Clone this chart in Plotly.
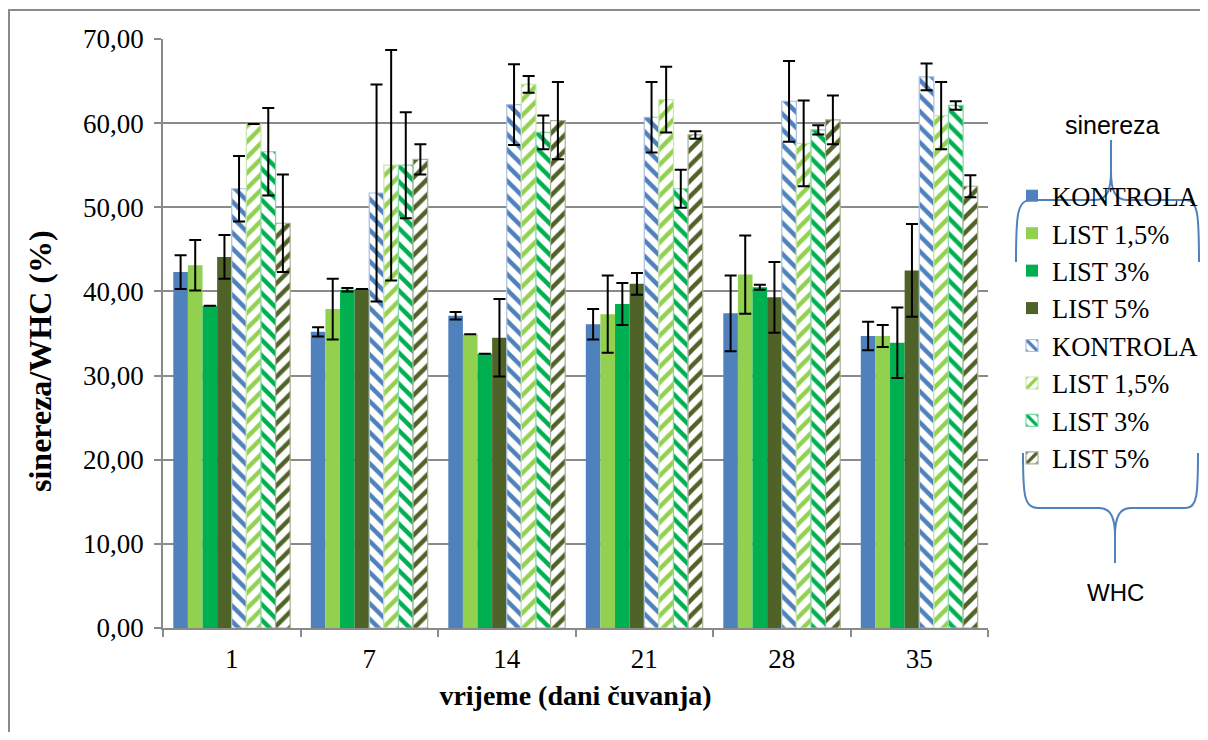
import plotly.graph_objects as go

days = ["1", "7", "14", "21", "28", "35"]
names = ["KONTROLA", "LIST 1,5%", "LIST 3%", "LIST 5%"]
colors = ["#4F81BD", "#92D050", "#00B050", "#4F6228"]
line_colors = ["#A7C0DE", "#C8E8A7", "#7FD7A7", "#A7B093"]
patterns = ["\\", "/", "\\", "/"]

# sinereza (solid)
sin_kontrola = [42.3, 35.2, 37.1, 36.1, 37.4, 34.7]
sin_list15 = [43.1, 37.9, 34.9, 37.3, 42.0, 34.7]
sin_list3 = [38.3, 40.2, 32.6, 38.5, 40.5, 33.9]
sin_list5 = [44.1, 40.3, 34.5, 40.9, 39.3, 42.5]
sin_err_kontrola = [2.0, 0.55, 0.45, 1.8, 4.5, 1.7]
sin_err_list15 = [3.0, 3.6, 0.0, 4.6, 4.65, 1.3]
sin_err_list3 = [0.0, 0.2, 0.0, 2.5, 0.3, 4.2]
sin_err_list5 = [2.6, 0.0, 4.6, 1.3, 4.2, 5.5]

# WHC (hatched)
whc_kontrola = [52.2, 51.7, 62.2, 60.7, 62.6, 65.5]
whc_list15 = [59.9, 55.0, 64.6, 62.8, 57.6, 60.9]
whc_list3 = [56.6, 55.0, 58.9, 52.2, 59.2, 62.1]
whc_list5 = [48.1, 55.7, 60.3, 58.6, 60.4, 52.5]
whc_err_kontrola = [3.9, 12.9, 4.8, 4.2, 4.8, 1.6]
whc_err_list15 = [0.0, 13.7, 1.0, 3.9, 5.1, 4.0]
whc_err_list3 = [5.2, 6.3, 2.0, 2.25, 0.55, 0.5]
whc_err_list5 = [5.8, 1.8, 4.6, 0.45, 2.9, 1.3]

sin_vals = [sin_kontrola, sin_list15, sin_list3, sin_list5]
sin_errs = [sin_err_kontrola, sin_err_list15, sin_err_list3, sin_err_list5]
whc_vals = [whc_kontrola, whc_list15, whc_list3, whc_list5]
whc_errs = [whc_err_kontrola, whc_err_list15, whc_err_list3, whc_err_list5]

FONT = "Times New Roman, Liberation Serif, serif"
OFF = 8  # default page body margin on each side
W, H = 1208 - 2 * OFF, 740 - 2 * OFF
# plot area in screen pixels
L, R, T, B = 163, 988, 39, 628

fig = go.Figure()
for i in range(4):
    fig.add_trace(go.Bar(
        x=days, y=sin_vals[i], name=names[i],
        marker=dict(color=colors[i], line=dict(width=0)),
        error_y=dict(type="data", array=sin_errs[i], color="black", thickness=2, width=6),
    ))
for i in range(4):
    fig.add_trace(go.Bar(
        x=days, y=whc_vals[i], name=names[i],
        marker=dict(color="white", line=dict(width=1.2, color=line_colors[i]),
                    pattern=dict(shape=patterns[i], fgcolor=colors[i], bgcolor="white",
                                 size=11, solidity=0.4, fillmode="replace")),
        error_y=dict(type="data", array=whc_errs[i], color="black", thickness=2, width=6),
    ))


def px(x):
    return (x - L) / (R - L)


def py(y):
    return (B - y) / (B - T)


def P(x, y):
    return f"{px(x):.5f},{py(y):.5f}"


shapes = []
# outer frame (left and top)
shapes.append(dict(type="path", xref="paper", yref="paper", layer="above",
                   path=f"M{P(9, 745)} L{P(9, 10)} L{P(1212, 10)}",
                   line=dict(color="#8A8A8A", width=2)))
# upper brace (sinereza)
up = (f"M{P(1016, 262)} C{P(1016, 215)} {P(1017, 200)} {P(1031, 200)} "
      f"L{P(1095, 200)} C{P(1107, 200)} {P(1111, 190)} {P(1111, 172)} "
      f"L{P(1111, 140)} L{P(1111, 172)} "
      f"C{P(1111, 190)} {P(1115, 200)} {P(1127, 200)} "
      f"L{P(1186, 200)} C{P(1198, 200)} {P(1199, 215)} {P(1199, 262)}")
shapes.append(dict(type="path", xref="paper", yref="paper", path=up, layer="above",
                   line=dict(color="#4F81BD", width=2)))
# lower brace (WHC)
lo = (f"M{P(1023, 453)} C{P(1023, 495)} {P(1024, 508)} {P(1038, 508)} "
      f"L{P(1099, 508)} C{P(1111, 508)} {P(1115, 518)} {P(1115, 536)} "
      f"L{P(1115, 563)} L{P(1115, 536)} "
      f"C{P(1115, 518)} {P(1119, 508)} {P(1131, 508)} "
      f"L{P(1186, 508)} C{P(1197, 508)} {P(1198, 495)} {P(1198, 453)}")
shapes.append(dict(type="path", xref="paper", yref="paper", path=lo, layer="above",
                   line=dict(color="#4F81BD", width=2)))

annotations = [
    dict(text="sinereza", xref="paper", yref="paper", x=px(1112), y=py(125),
         showarrow=False, xanchor="center", yanchor="middle",
         font=dict(family="Liberation Sans, Arial, sans-serif", size=25, color="black")),
    dict(text="WHC", xref="paper", yref="paper", x=px(1115), y=py(592),
         showarrow=False, xanchor="center", yanchor="middle",
         font=dict(family="Liberation Sans, Arial, sans-serif", size=24, color="black")),
    dict(text="<b>sinereza/WHC (%)</b>", xref="paper", yref="paper", x=px(40), y=py(361),
         showarrow=False, xanchor="center", yanchor="middle", textangle=-90,
         font=dict(family=FONT, size=32, color="black")),
]

fig.update_layout(
    width=W, height=H,
    margin=dict(l=L - OFF, r=W - (R - OFF), t=T - OFF, b=H - (B - OFF), autoexpand=False),
    paper_bgcolor="white", plot_bgcolor="white",
    barmode="group", bargap=0.15, bargroupgap=0,
    separators=",.",
    font=dict(family=FONT, size=27, color="black"),
    showlegend=True,
    legend=dict(x=px(1012), xanchor="left", y=py(172), yanchor="top",
                font=dict(family=FONT, size=26.5, color="black"),
                bgcolor="rgba(0,0,0,0)", traceorder="normal", itemwidth=30),
    shapes=shapes,
    annotations=annotations,
    xaxis=dict(type="category", showline=True, linecolor="#8A8A8A", linewidth=1.5,
               ticks="outside", tickson="boundaries", ticklen=7, tickcolor="#8A8A8A",
               tickwidth=1.5, showgrid=False, ticklabelstandoff=6, automargin=False,
               tickfont=dict(family=FONT, size=27),
               title=dict(text="<b>vrijeme (dani čuvanja)</b>", standoff=12,
                          font=dict(family=FONT, size=28))),
    yaxis=dict(range=[0, 70], dtick=10, tickformat=".2f", showline=True,
               linecolor="#8A8A8A", linewidth=1.5, ticks="outside", ticklen=7,
               tickcolor="#8A8A8A", tickwidth=1.5, ticklabelstandoff=5, automargin=False,
               tickfont=dict(family=FONT, size=27),
               showgrid=True, gridcolor="#8A8A8A", gridwidth=1.5,
               zeroline=False),
)

fig.write_html("out.html")
